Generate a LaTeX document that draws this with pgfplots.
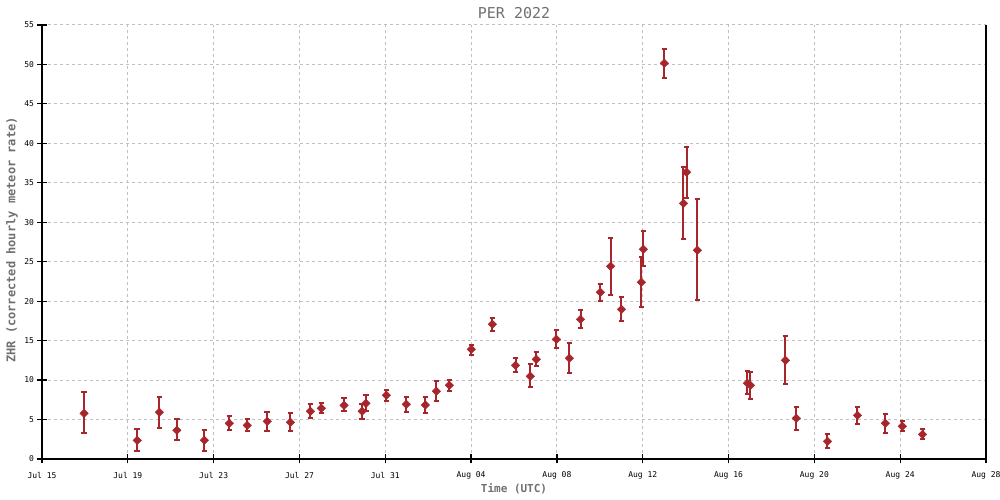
\documentclass[border=0pt]{standalone}
\usepackage{pgfplots}
\pgfplotsset{compat=1.18}
\usepackage{pgfplotstable}
\usepackage{fontspec}
\setmainfont{DejaVu Sans Mono}
\setmonofont{DejaVu Sans Mono}
\usetikzlibrary{calc}
\definecolor{ptc}{RGB}{166,38,44}
\definecolor{gridc}{RGB}{192,192,192}
\definecolor{labc}{RGB}{112,112,112}

\pgfplotstableread{
x y lo hi
1.96 5.79 3.26 8.45
4.44 2.37 0.97 3.76
5.47 5.92 3.89 7.82
6.29 3.64 2.37 5.03
7.57 2.37 0.97 3.64
8.73 4.52 3.64 5.41
9.57 4.26 3.51 5.03
10.50 4.77 3.51 5.92
11.58 4.65 3.51 5.79
12.51 6.04 5.15 6.93
13.02 6.42 5.79 7.06
14.08 6.80 6.04 7.69
14.92 6.04 5.10 6.97
15.10 7.06 6.04 8.07
16.05 8.07 7.40 8.70
16.98 6.93 5.92 7.82
17.87 6.84 5.79 7.82
18.38 8.58 7.31 9.85
18.99 9.34 8.58 9.97
20.01 13.90 13.14 14.49
20.99 17.07 16.18 17.83
22.07 11.87 10.99 12.76
22.76 10.48 9.09 12.00
23.04 12.63 11.83 13.52
23.98 15.17 14.03 16.31
24.58 12.76 10.86 14.66
25.10 17.70 16.56 18.85
26.03 21.13 19.99 22.14
26.50 24.42 20.79 28.00
27.01 18.97 17.49 20.57
27.94 22.40 19.23 25.57
28.03 26.58 24.42 28.86
29.01 50.15 48.25 51.93
29.90 32.40 27.85 36.97
30.04 36.34 33.04 39.50
30.55 26.45 20.11 32.92
32.88 9.59 8.20 11.12
33.02 9.34 7.57 10.99
34.65 12.50 9.47 15.55
35.16 5.15 3.64 6.55
36.61 2.24 1.35 3.13
38.01 5.53 4.39 6.55
39.31 4.52 3.25 5.66
40.10 4.14 3.51 4.77
41.04 3.13 2.50 3.76
}\pertable

\begin{document}
\begin{tikzpicture}
\begin{axis}[
  scale only axis, width=944pt, height=434pt,
  xmin=0, xmax=44, ymin=0, ymax=55,
  axis x line=bottom, axis y line=left,
  axis line style={-, black, line width=1.2pt},
  xtick={0,4,...,44},
  xticklabels={Jul 15,Jul 19,Jul 23,Jul 27,Jul 31,Aug 04,Aug 08,Aug 12,Aug 16,Aug 20,Aug 24,Aug 28},
  ytick={0,5,...,55},
  tick align=center, major tick length=9pt,
  tick style={black, line width=1.2pt},
  grid=major,
  grid style={gridc, dash pattern=on 3pt off 3pt, line width=1pt},
  ticklabel style={font=\fontsize{8}{9}\selectfont, text=black},
  xticklabel style={yshift=-5pt},
  /pgf/number format/assume math mode=true,
  title={PER 2022},
  title style={at={(axis description cs:0.5,1)}, anchor=base, yshift=0pt,
    font=\fontsize{15}{17}\selectfont, text=labc},
  xlabel={Time (UTC)},
  xlabel style={at={(axis description cs:0.5,0)}, anchor=base, yshift=-34pt,
    font=\bfseries\fontsize{11}{13}\selectfont, text=labc},
  ylabel={ZHR (corrected hourly meteor rate)},
  ylabel style={at={(axis description cs:0,0.5)}, anchor=center, xshift=2pt, yshift=30pt,
    font=\bfseries\fontsize{12}{14}\selectfont, text=labc},
  clip=false,
]
\draw[black, line width=1.2pt] (rel axis cs:1,0) -- (rel axis cs:1,1);
\addplot[only marks, ptc, mark=square*, mark size=3pt,
  mark options={rotate=45, fill=ptc, draw=ptc},
  error bars/.cd, y dir=both, y explicit,
  error bar style={ptc, line width=2pt},
  error mark options={rotate=90, mark size=2.8pt, line width=2pt, ptc}]
  table[x=x, y=y,
    y error plus expr=\thisrow{hi}-\thisrow{y},
    y error minus expr=\thisrow{y}-\thisrow{lo}] {\pertable};
\end{axis}
\pgfresetboundingbox
\path[use as bounding box] ($(current axis.south west)+(-42pt,-41pt)$) rectangle ($(current axis.north east)+(14pt,25pt)$);
\end{tikzpicture}
\end{document}
